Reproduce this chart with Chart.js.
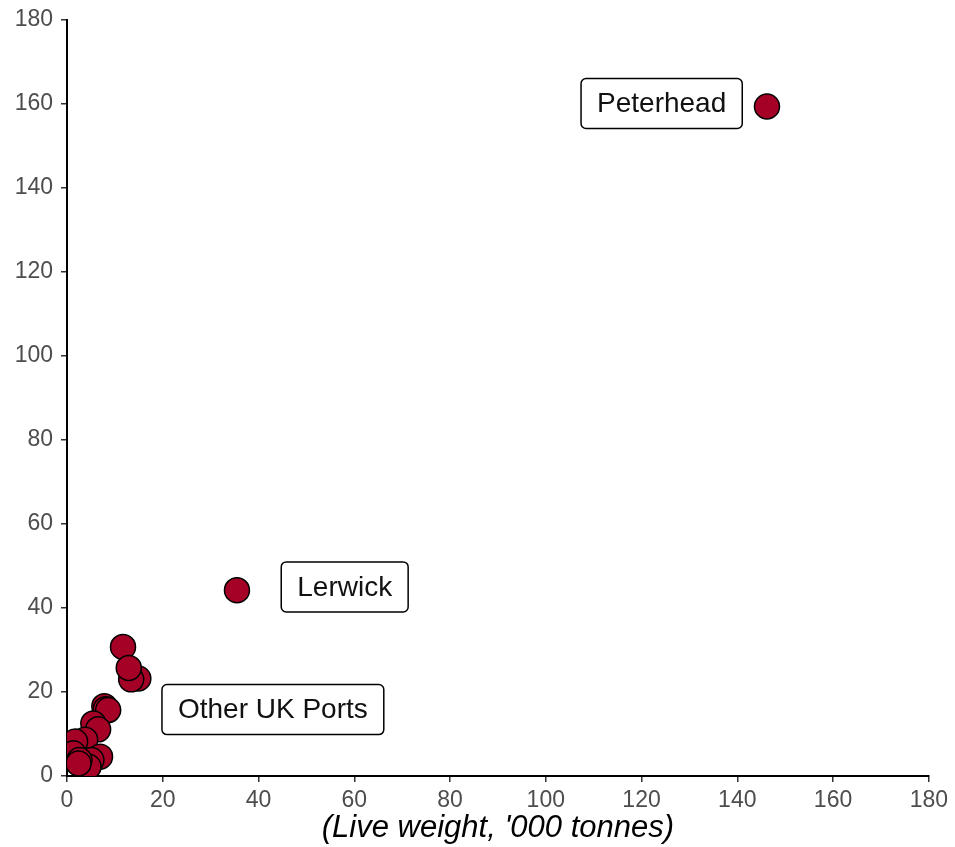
<!DOCTYPE html>
<html>
<head>
<meta charset="utf-8">
<script src="https://cdn.jsdelivr.net/npm/chart.js@4"></script>
<style>
    html, body { margin: 0; padding: 0; background: #fff; }
    #wrap { width: 955px; height: 847px; }
</style>
</head>
<body>
<div id="wrap"><canvas id="portChart" width="955" height="847"></canvas></div>
<script>
// landings by port: x = live weight ('000 tonnes), y = value
const portX = [146.2, 35.5, 11.7, 14.9, 13.4, 12.9, 7.8, 8.1, 8.6, 5.5, 6.5, 3.8, 1.7, 6.9, 5.1, 1.3, 4.5, 2.6, 2.4];
const portY = [159.3, 44.2, 30.7, 23.2, 23.0, 25.7, 16.6, 15.9, 15.7, 12.5, 11.1, 8.6, 8.2, 4.6, 3.8, 5.4, 2.2, 3.8, 3.0];

const labelText = ["Peterhead", "Lerwick", "Other UK Ports"];
const labelX = [124.2, 58.0, 43.0];
const labelY = [160.0, 45.0, 15.8];

const tickValues = [0, 20, 40, 60, 80, 100, 120, 140, 160, 180];
const xTitle = "(Live weight, '000 tonnes)";

const points = portX.map((x, i) => ({ x: x, y: portY[i] }));

// boxed labels drawn at data coordinates
const labelBoxes = {
    id: "labelBoxes",
    afterDatasetsDraw(chart) {
        const ctx = chart.ctx;
        const xs = chart.scales.x;
        const ys = chart.scales.y;
        ctx.save();
        ctx.font = "28px 'Liberation Sans', Arial, sans-serif";
        ctx.textAlign = "center";
        ctx.textBaseline = "middle";
        labelText.forEach((txt, i) => {
            const cx = xs.getPixelForValue(labelX[i]);
            const cy = ys.getPixelForValue(labelY[i]);
            const w = ctx.measureText(txt).width + 32;
            const h = 50;
            ctx.beginPath();
            ctx.roundRect(cx - w / 2, cy - h / 2, w, h, 5);
            ctx.fillStyle = "#fff";
            ctx.fill();
            ctx.lineWidth = 1.5;
            ctx.strokeStyle = "#000";
            ctx.stroke();
            ctx.fillStyle = "#111";
            ctx.fillText(txt, cx, cy + 1);
        });
        ctx.restore();
    }
};

const tickFont = { family: "'Liberation Sans', Arial, sans-serif", size: 23, lineHeight: 1 };

new Chart(document.getElementById("portChart"), {
    type: "scatter",
    data: {
        datasets: [
            {
                data: points,
                backgroundColor: "#a50026",
                borderColor: "#000",
                borderWidth: 1.5,
                pointRadius: 12.5,
                pointHoverRadius: 12.5,
                clip: 0,
            },
        ],
    },
    options: {
        responsive: false,
        animation: false,
        layout: { padding: { top: 19, right: 26, left: 0, bottom: 0 } },
        plugins: {
            legend: { display: false },
            tooltip: { enabled: false },
        },
        scales: {
            x: {
                min: 0,
                max: 180,
                afterBuildTicks: s => { s.ticks = tickValues.map(v => ({ value: v })); },
                afterFit: s => { s.height = 71; },
                grid: { drawOnChartArea: false, drawTicks: true, tickLength: 6, color: "#333", lineWidth: 1.5 },
                border: { color: "#000", width: 2 },
                ticks: { color: "#4d4d4d", font: tickFont, padding: 7, maxRotation: 0 },
                title: {
                    display: true,
                    text: xTitle,
                    color: "#000",
                    font: { family: "'Liberation Sans', Arial, sans-serif", size: 31, style: "italic" },
                    padding: { top: 0, bottom: 0 },
                },
            },
            y: {
                min: 0,
                max: 180,
                afterBuildTicks: s => { s.ticks = tickValues.map(v => ({ value: v })); },
                afterFit: s => { s.width = 67; },
                grid: { drawOnChartArea: false, drawTicks: true, tickLength: 6, color: "#333", lineWidth: 1.5 },
                border: { color: "#000", width: 2 },
                ticks: { color: "#4d4d4d", font: tickFont, padding: 8 },
            },
        },
    },
    plugins: [labelBoxes],
});
</script>
</body>
</html>
